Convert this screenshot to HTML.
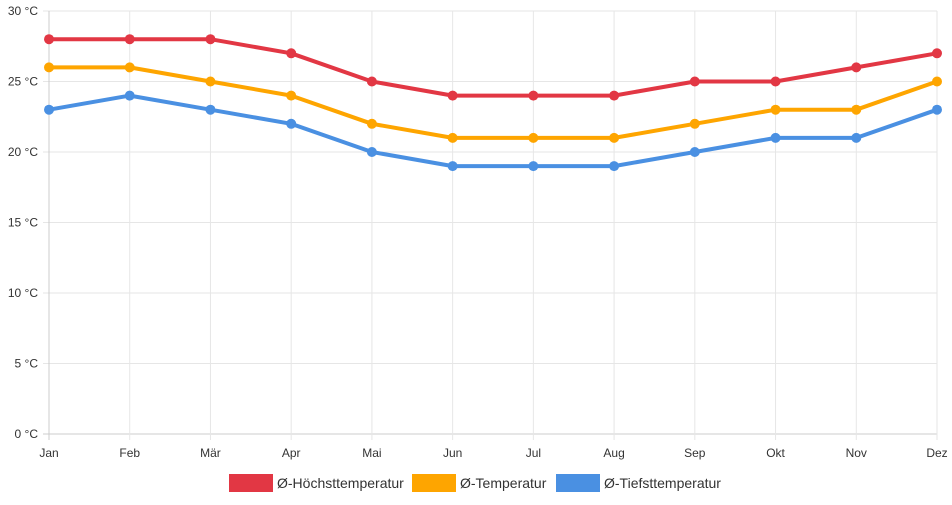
<!DOCTYPE html>
<html><head><meta charset="utf-8"><style>
body{margin:0;background:#fff;font-family:"Liberation Sans",sans-serif;}
svg text{font-family:"Liberation Sans",sans-serif;font-size:12px;fill:#333;}
</style></head><body>
<svg id="c" width="952" height="500"></svg>
<script>
const months=["Jan","Feb","Mär","Apr","Mai","Jun","Jul","Aug","Sep","Okt","Nov","Dez"];
const highTemps=[28,28,28,27,25,24,24,24,25,25,26,27];
const avgTemps=[26,26,25,24,22,21,21,21,22,23,23,25];
const lowTemps=[23,24,23,22,20,19,19,19,20,21,21,23];
const yTicks=[0,5,10,15,20,25,30];
const seriesNames=["Ø-Höchsttemperatur","Ø-Temperatur","Ø-Tiefsttemperatur"];
const NS="http://www.w3.org/2000/svg";
const svg=document.getElementById('c');
const X0=49,X1=937,Y0=434,Y1=11;
const x=i=>X0+i*(X1-X0)/(months.length-1);
const y=v=>Y0-(v-0)/(30-0)*(Y0-Y1);
function mk(t,a,p){const e=document.createElementNS(NS,t);for(const k in a)e.setAttribute(k,a[k]);(p||svg).appendChild(e);return e;}
const grid=mk('g',{});


yTicks.forEach(v=>{
 const l=mk('line',{x1:X0-6,x2:X1,y1:y(v),y2:y(v),stroke:v===0?'#ccc':'#e6e6e6'},grid);
 
 
 const t=mk('text',{x:X0-11,y:y(v)+4,'text-anchor':'end'});
 t.textContent=v+' °C';
 
 
});
months.forEach((m,i)=>{
 const l=mk('line',{x1:x(i),x2:x(i),y1:Y1,y2:Y0+6,stroke:i===0?'#ccc':'#e6e6e6'},grid);
 
 
 const t=mk('text',{x:x(i),y:Y0+23,'text-anchor':'middle'});
 t.textContent=m;
 
 
});
const series=[[highTemps,'#e23744'],[avgTemps,'#fea500'],[lowTemps,'#4a90e2']];
series.forEach(([d,c],si)=>{
 const g=mk('g',{});
 
 
 const p=mk('polyline',{points:d.map((v,i)=>x(i)+','+y(v)).join(' '),fill:'none',stroke:c,'stroke-width':4,'stroke-linejoin':'round'},g);
 
 
 d.forEach((v,i)=>{
  const pt=mk('circle',{cx:x(i),cy:y(v),r:5,fill:c},g);
  
  
 });
 const lx=[229,412,556][si];
 const r=mk('rect',{x:lx,y:474,width:44,height:18,fill:c});
 
 
 const t=mk('text',{x:lx+48,y:488,style:'font-size:14px'});
 t.textContent=seriesNames[si];
 
 
});
</script>
</body></html>
